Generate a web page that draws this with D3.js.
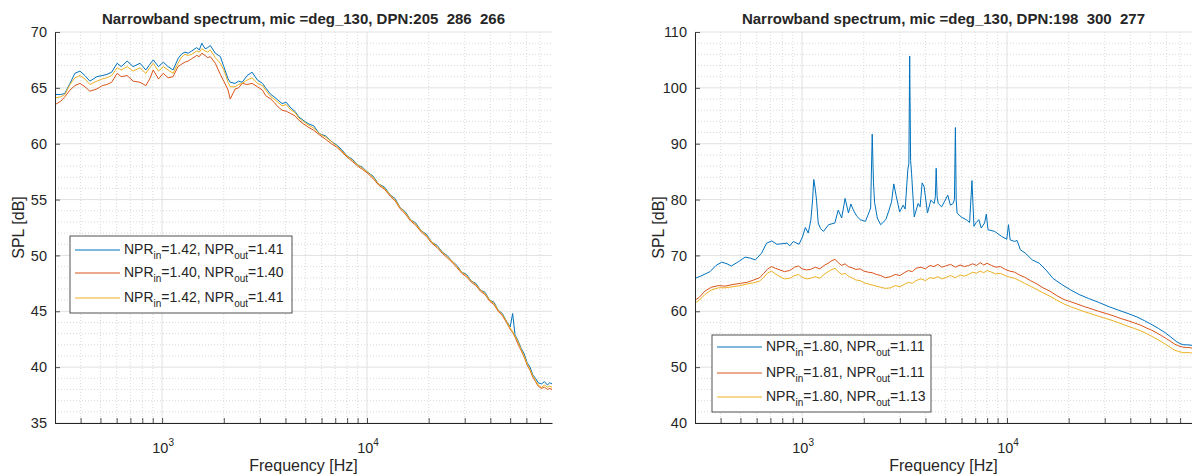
<!DOCTYPE html>
<html>
<head>
<meta charset="utf-8">
<script src="https://cdn.jsdelivr.net/npm/d3@7"></script>
<style>
  body { margin: 0; background: #fff; }
  svg { display: block; }
  text { font-family: "Liberation Sans", Arial, Helvetica, sans-serif; fill: #262626; }
</style>
</head>
<body>
<svg id="fig" width="1192" height="476"></svg>
<script>
// ---- Axis ticks (shared log frequency axis) ----
const xDomain = [300, 80000];
const xMajorTicks = [1000, 10000];
const xMajorExp = ["3", "4"];
const xMinorTicks = [400, 500, 600, 700, 800, 900, 2000, 3000, 4000, 5000, 6000, 7000, 8000, 9000,
                     20000, 30000, 40000, 50000, 60000, 70000];
const leftYTicks = [35, 40, 45, 50, 55, 60, 65, 70];
const rightYTicks = [40, 50, 60, 70, 80, 90, 100, 110];

// ---- Left panel: DPN 205 286 266 ----
const leftFreq = [
  300, 320, 335, 355, 375, 397, 420, 444, 480, 510,
  537, 567, 603, 632, 675, 722, 780, 833, 870, 905,
  960, 1013, 1070, 1131, 1195, 1240, 1292, 1340, 1394, 1474,
  1520, 1562, 1621, 1670, 1718, 1818, 1924, 2000, 2099, 2150,
  2272, 2360, 2460, 2600, 2750, 2918, 3090, 3200, 3395, 3520,
  3680, 3850, 4040, 4250, 4450, 4650, 4880, 5150, 5500, 5850,
  6280, 6700, 7100, 7500, 8000, 8500, 9000, 9500, 10000, 10700,
  11400, 12200, 13000, 13700, 14500, 15400, 16300, 17300, 18400, 19500,
  20700, 22000, 23300, 24600, 26000, 27500, 29000, 30600, 32300, 34000,
  35800, 37700, 39700, 41700, 43700, 45800, 48000, 50000, 51400, 52800,
  54500, 56500, 58500, 60500, 62500, 64500, 66500, 68500, 71000, 73500,
  76000, 78000, 80000
];
const leftBlue = [
  64.4, 64.4, 64.5, 65.4, 66.3, 66.5, 66.1, 65.6, 66.0, 66.1,
  66.2, 66.4, 67.2, 66.9, 67.4, 66.9, 67.2, 66.6, 67.1, 67.5,
  66.9, 67.3, 66.9, 66.6, 67.6, 68.0, 68.2, 68.1, 68.3, 68.6,
  68.4, 69.0, 68.5, 68.6, 68.8, 68.1, 67.8, 66.9, 65.8, 65.5,
  65.4, 65.6, 65.5, 66.1, 66.4, 65.7, 65.4, 65.0, 64.4, 64.2,
  63.9, 63.6, 63.7, 63.2, 62.9, 62.4, 62.1, 61.8, 61.6, 60.9,
  60.7, 60.2, 59.9, 59.5, 58.9, 58.6, 58.1, 57.9, 57.5, 57.1,
  56.4, 56.1, 55.4, 55.1, 54.3, 53.9, 53.2, 52.9, 52.2, 51.9,
  51.2, 50.9, 50.3, 50.0, 49.5, 49.1, 48.5, 48.3, 47.7, 47.5,
  46.9, 46.7, 46.0, 45.8, 45.1, 44.8, 44.1, 43.6, 44.8, 42.9,
  42.4, 41.7, 41.2, 40.4, 40.0, 39.3, 39.0, 38.6, 38.5, 38.7,
  38.4, 38.6, 38.5
];
const leftRed = [
  63.5, 63.8, 64.2, 64.8, 65.2, 65.4, 65.1, 64.7, 64.9, 65.2,
  65.3, 65.5, 66.3, 66.0, 66.1, 65.6, 65.5, 65.2, 65.8, 66.6,
  65.8, 66.3, 65.9, 66.0, 66.9, 67.1, 67.3, 67.4, 67.6, 67.9,
  67.8, 68.1, 67.9, 67.7, 67.8, 67.2, 66.2, 65.6, 64.8, 64.0,
  64.9, 65.0, 65.4, 65.3, 65.4, 65.1, 64.8, 64.3, 64.0, 63.7,
  63.3, 63.0, 62.9, 62.7, 62.5, 62.1, 61.8, 61.5, 61.2, 60.8,
  60.4, 60.0, 59.7, 59.3, 58.8, 58.4, 58.0, 57.7, 57.4, 56.9,
  56.3, 55.9, 55.3, 54.9, 54.2, 53.7, 53.1, 52.7, 52.1, 51.7,
  51.1, 50.7, 50.2, 49.8, 49.4, 48.9, 48.4, 48.1, 47.6, 47.3,
  46.8, 46.5, 45.9, 45.6, 45.0, 44.6, 44.0, 43.4, 43.1, 42.7,
  42.1, 41.5, 40.9, 40.2, 39.7, 39.1, 38.7, 38.3, 38.1, 38.2,
  38.0, 38.1, 38.0
];
const leftYellow = [
  64.1, 64.2, 64.4, 65.3, 65.9, 66.1, 65.8, 65.3, 65.6, 65.8,
  65.9, 66.1, 66.8, 66.6, 66.9, 66.5, 66.8, 66.3, 66.8, 67.2,
  66.5, 66.9, 66.6, 66.3, 67.2, 67.7, 68.0, 67.9, 68.0, 68.3,
  68.2, 68.5, 68.3, 68.2, 68.4, 67.7, 67.2, 66.6, 65.5, 65.1,
  65.1, 65.3, 65.4, 65.7, 65.9, 65.4, 65.2, 64.8, 64.2, 64.0,
  63.7, 63.4, 63.5, 63.0, 62.8, 62.3, 62.0, 61.7, 61.4, 60.9,
  60.6, 60.2, 59.8, 59.4, 58.9, 58.5, 58.1, 57.8, 57.5, 57.0,
  56.4, 56.0, 55.4, 55.0, 54.3, 53.8, 53.2, 52.8, 52.2, 51.8,
  51.2, 50.8, 50.3, 49.9, 49.5, 49.0, 48.5, 48.2, 47.7, 47.4,
  46.9, 46.6, 46.0, 45.7, 45.1, 44.7, 44.1, 43.5, 43.2, 42.8,
  42.3, 41.6, 41.0, 40.3, 39.8, 39.2, 38.8, 38.4, 38.2, 38.4,
  38.2, 38.3, 38.2
];
const leftNprIn = ["1.42", "1.40", "1.42"];
const leftNprOut = ["1.41", "1.40", "1.41"];

// ---- Right panel: DPN 198 300 277 ----
const rightBlueFreq = [
  300, 320, 355, 380, 405, 430, 451, 490, 527, 560,
  591, 634, 671, 711, 753, 800, 845, 870, 906, 966,
  1004, 1037, 1071, 1103, 1125, 1140, 1158, 1176, 1198, 1230,
  1271, 1346, 1444, 1500, 1560, 1621, 1683, 1730, 1784, 1850,
  1921, 2037, 2116, 2160, 2199, 2230, 2258, 2328, 2418, 2561,
  2656, 2732, 2802, 2884, 2993, 3114, 3184, 3280, 3320, 3350,
  3385, 3422, 3525, 3684, 3766, 3853, 3941, 4092, 4249, 4414,
  4470, 4512, 4560, 4617, 4796, 4946, 5139, 5294, 5457, 5540,
  5600, 5650, 5708, 5970, 6325, 6570, 6746, 6898, 7078, 7292,
  7487, 7776, 7929, 8080, 8711, 9414, 9975, 10170, 10360, 10890,
  11190, 11630, 12300, 13290, 14370, 15500, 16760, 18500, 20500, 22500,
  25000, 28000, 31600, 35000, 39000, 43000, 47000, 51000, 55000, 59000,
  63000, 67000, 70000, 73000, 76000, 80000
];
const rightBlue = [
  65.9, 66.3, 67.1, 68.2, 68.8, 68.5, 68.1, 68.9, 69.7, 69.5,
  69.2, 70.4, 72.2, 72.6, 72.0, 72.1, 72.2, 71.7, 72.5, 72.0,
  73.3, 75.0, 74.0, 76.3, 80.0, 83.6, 82.0, 79.9, 75.8, 74.8,
  74.3, 75.5, 75.8, 78.1, 76.7, 80.2, 77.6, 79.2, 78.0, 77.0,
  76.4, 76.1, 77.6, 78.5, 91.7, 83.0, 79.5, 76.7, 75.5, 76.4,
  78.1, 79.6, 82.8, 80.5, 77.8, 79.0, 78.3, 85.3, 86.5, 105.7,
  87.0, 84.7, 76.9, 79.3, 78.7, 83.0, 82.3, 77.6, 79.9, 79.3,
  80.5, 85.6, 80.5, 79.3, 78.7, 79.6, 80.8, 79.0, 79.3, 80.0,
  92.9, 80.0, 77.6, 76.9, 76.4, 75.9, 83.4, 75.2, 75.9, 76.4,
  74.9, 75.8, 77.4, 74.6, 74.3, 73.4, 72.9, 75.5, 72.8, 72.5,
  72.7, 71.0, 70.4, 69.2, 68.6, 67.4, 65.9, 64.8, 63.8, 63.0,
  62.3, 61.6, 60.8, 60.2, 59.6, 59.0, 58.3, 57.6, 56.9, 56.2,
  55.4, 54.6, 54.2, 54.0, 54.0, 53.9
];
const rightFreq = [
  300, 315, 335, 360, 390, 420, 460, 500, 540, 580,
  620, 650, 680, 710, 740, 780, 820, 870, 920, 960,
  1000, 1050, 1100, 1160, 1220, 1280, 1340, 1400, 1450, 1500,
  1560, 1620, 1680, 1750, 1830, 1920, 2000, 2100, 2200, 2300,
  2420, 2550, 2700, 2850, 3000, 3150, 3300, 3450, 3600, 3800,
  4000, 4200, 4400, 4600, 4800, 5000, 5300, 5600, 5900, 6200,
  6500, 6800, 7100, 7400, 7700, 8000, 8400, 8800, 9300, 9800,
  10300, 10900, 11500, 12200, 13000, 14000, 15000, 16200, 17500, 19000,
  20500, 22000, 24000, 26000, 28000, 30500, 33000, 36000, 39000, 42000,
  45000, 48000, 51000, 54000, 57000, 60000, 63000, 66000, 69000, 72000,
  75000, 78000, 80000
];
const rightRed = [
  62.0, 62.5, 63.6, 64.3, 64.6, 64.5, 64.8, 65.0, 65.2, 65.6,
  66.0, 66.8, 67.6, 68.0, 67.7, 67.4, 67.1, 67.3, 67.9, 68.1,
  67.6, 67.4, 67.5, 67.9, 67.6, 68.2, 68.6, 69.1, 69.3, 68.7,
  68.2, 68.5, 68.0, 67.8, 67.5, 67.6, 67.2, 67.0, 66.9, 66.6,
  66.4, 66.0, 66.2, 66.6, 66.4, 66.9, 67.3, 67.1, 67.7, 67.9,
  67.6, 68.2, 68.0, 68.4, 67.9, 68.1, 68.4, 67.9, 68.3, 68.0,
  68.2, 68.5, 68.2, 68.7, 68.3, 68.6, 68.2, 67.9, 68.0, 67.5,
  67.2, 67.0, 66.5, 66.1, 65.5, 64.9, 64.2, 63.6, 62.8, 62.1,
  61.7, 61.3, 60.8, 60.4, 60.0, 59.6, 59.2, 58.7, 58.3, 57.9,
  57.5, 57.0, 56.6, 56.1, 55.6, 55.1, 54.6, 54.1, 53.8, 53.6,
  53.5, 53.5, 53.4
];
const rightYellow = [
  61.5, 62.0, 63.0, 63.8, 64.2, 64.2, 64.4, 64.6, 64.9, 65.1,
  65.4, 66.1, 66.9, 67.2, 66.7, 66.2, 65.8, 65.9, 66.4, 66.6,
  66.1, 65.8, 65.9, 66.2, 65.9, 66.6, 67.1, 67.5, 67.7, 67.1,
  66.6, 66.8, 66.3, 66.0, 65.6, 65.5, 65.1, 64.9, 64.7, 64.5,
  64.3, 64.1, 64.2, 64.6, 64.4, 64.8, 65.2, 65.0, 65.5, 65.8,
  65.5, 66.0, 65.9, 66.2, 65.8, 66.0, 66.4, 66.0, 66.5, 66.3,
  66.6, 67.0, 66.8, 67.2, 66.9, 67.3, 67.0, 66.7, 66.8, 66.4,
  66.1, 65.9, 65.5, 65.0, 64.5, 63.9, 63.3, 62.7, 62.0, 61.3,
  60.8, 60.4, 59.9, 59.5, 59.1, 58.7, 58.3, 57.8, 57.3, 56.9,
  56.5, 56.0, 55.5, 55.0, 54.5, 54.0, 53.5, 53.0, 52.8, 52.6,
  52.6, 52.6, 52.5
];
const rightNprIn = ["1.80", "1.81", "1.80"];
const rightNprOut = ["1.11", "1.11", "1.13"];

const colors = ["#0072BD", "#D95319", "#EDB120"];

const svg = d3.select("#fig");

function drawPanel(p) {
  const g = svg.append("g");
  const x = d3.scaleLog().domain(xDomain).range([p.left, p.right]);
  const y = d3.scaleLinear().domain(p.yDomain).range([p.bottom, p.top]);

  // minor grid (dotted)
  const yMinor = d3.range(p.yDomain[0], p.yDomain[1] + 1e-9, p.yMinorStep)
    .filter(v => !p.yTicks.includes(v));
  const grid = g.append("g");
  grid.selectAll(".mx").data(xMinorTicks).join("line")
    .attr("x1", d => x(d)).attr("x2", d => x(d))
    .attr("y1", p.top).attr("y2", p.bottom)
    .attr("stroke", "#cfcfcf").attr("stroke-width", 0.8).attr("stroke-dasharray", "1,2");
  grid.selectAll(".my").data(yMinor).join("line")
    .attr("x1", p.left).attr("x2", p.right)
    .attr("y1", d => y(d)).attr("y2", d => y(d))
    .attr("stroke", "#cfcfcf").attr("stroke-width", 0.8).attr("stroke-dasharray", "1,2");
  // major grid
  grid.selectAll(".Mx").data(xMajorTicks).join("line")
    .attr("x1", d => x(d)).attr("x2", d => x(d))
    .attr("y1", p.top).attr("y2", p.bottom)
    .attr("stroke", "#e1e1e1").attr("stroke-width", 1);
  grid.selectAll(".My").data(p.yTicks).join("line")
    .attr("x1", p.left).attr("x2", p.right)
    .attr("y1", d => y(d)).attr("y2", d => y(d))
    .attr("stroke", "#e1e1e1").attr("stroke-width", 1);

  // spectra
  const clipId = "clip-" + p.id;
  svg.append("clipPath").attr("id", clipId).append("rect")
    .attr("x", p.left).attr("y", p.top)
    .attr("width", p.right - p.left).attr("height", p.bottom - p.top);
  const line = d3.line().x(d => x(d[0])).y(d => y(d[1]));
  const lines = g.append("g").attr("clip-path", `url(#${clipId})`);
  p.series.forEach((s, i) => {
    lines.append("path")
      .attr("d", line(d3.zip(s.freq, s.values)))
      .attr("fill", "none").attr("stroke", colors[i])
      .attr("stroke-width", 1).attr("stroke-linejoin", "round");
  });

  // axes
  const xAxis = d3.axisBottom(x)
    .tickValues(xMajorTicks.concat(xMinorTicks))
    .tickSizeInner(-5).tickSizeOuter(0).tickFormat("");
  const gx = g.append("g").attr("transform", `translate(0,${p.bottom})`).call(xAxis);
  gx.select(".domain").attr("stroke", "#262626").attr("stroke-width", 1);
  gx.selectAll(".tick line").attr("stroke", "#262626").attr("stroke-width", 0.8);

  const yAxis = d3.axisLeft(y).tickValues(p.yTicks)
    .tickSizeInner(-5).tickSizeOuter(0).tickPadding(8);
  const gy = g.append("g").attr("transform", `translate(${p.left},0)`).call(yAxis);
  gy.select(".domain").attr("stroke", "#262626").attr("stroke-width", 1);
  gy.selectAll(".tick line").attr("stroke", "#262626").attr("stroke-width", 0.8);
  gy.selectAll(".tick text").attr("font-size", 14.5).attr("fill", "#262626")
    .attr("font-family", null);

  // decade labels 10^n
  xMajorTicks.forEach((t, i) => {
    const tx = g.append("text").attr("x", x(t) + 1).attr("y", p.bottom + 30)
      .attr("text-anchor", "middle").attr("font-size", 14.5);
    tx.append("tspan").text("10");
    tx.append("tspan").attr("dy", -7).attr("font-size", 10).text(xMajorExp[i]);
  });

  // axis labels
  g.append("text").attr("x", (p.left + p.right) / 2).attr("y", 471)
    .attr("text-anchor", "middle").attr("font-size", 16).text("Frequency [Hz]");
  g.append("text")
    .attr("transform", `translate(${p.left - 31},${(p.top + p.bottom) / 2}) rotate(-90)`)
    .attr("text-anchor", "middle").attr("font-size", 16).text("SPL [dB]");

  // title
  g.append("text").attr("x", (p.left + p.right) / 2).attr("y", 24)
    .attr("text-anchor", "middle").attr("font-size", 15).attr("font-weight", "bold")
    .attr("fill", "#000").style("white-space", "pre").text(p.title);

  // legend
  const L = p.legend;
  const lg = g.append("g");
  lg.append("rect").attr("x", L.x).attr("y", L.y).attr("width", L.w).attr("height", L.h)
    .attr("fill", "#fff").attr("stroke", "#262626").attr("stroke-width", 0.8);
  p.nprIn.forEach((v, i) => {
    const ry = L.y + L.rows[i];
    lg.append("line").attr("x1", L.x + 5).attr("x2", L.x + 50)
      .attr("y1", ry).attr("y2", ry).attr("stroke", colors[i]).attr("stroke-width", 1);
    const t = lg.append("text").attr("x", L.x + 54).attr("y", ry + 4).attr("font-size", 14);
    t.append("tspan").text("NPR");
    t.append("tspan").attr("dy", 5).attr("font-size", 10).text("in");
    t.append("tspan").attr("dy", -5).text("=" + v + ", NPR");
    t.append("tspan").attr("dy", 5).attr("font-size", 10).text("out");
    t.append("tspan").attr("dy", -5).text("=" + p.nprOut[i]);
  });
}

drawPanel({
  id: "left", left: 55, right: 552, top: 32, bottom: 423,
  yDomain: [35, 70], yTicks: leftYTicks, yMinorStep: 1,
  title: "Narrowband spectrum, mic =deg_130, DPN:205  286  266",
  series: [
    { freq: leftFreq, values: leftBlue },
    { freq: leftFreq, values: leftRed },
    { freq: leftFreq, values: leftYellow }
  ],
  nprIn: leftNprIn, nprOut: leftNprOut,
  legend: { x: 70, y: 236, w: 222, h: 77, rows: [14, 37, 62] }
});

drawPanel({
  id: "right", left: 695, right: 1192, top: 32, bottom: 423,
  yDomain: [40, 110], yTicks: rightYTicks, yMinorStep: 2,
  title: "Narrowband spectrum, mic =deg_130, DPN:198  300  277",
  series: [
    { freq: rightBlueFreq, values: rightBlue },
    { freq: rightFreq, values: rightRed },
    { freq: rightFreq, values: rightYellow }
  ],
  nprIn: rightNprIn, nprOut: rightNprOut,
  legend: { x: 712, y: 335, w: 219, h: 77, rows: [12, 38, 62] }
});
</script>
</body>
</html>
